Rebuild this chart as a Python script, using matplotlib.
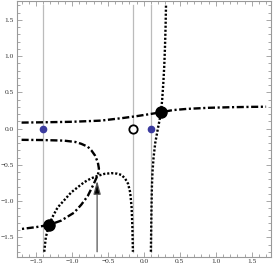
import matplotlib
matplotlib.use("Agg")
import matplotlib.pyplot as plt
import numpy as np

# ---- data ----
# dotted curve, right branch (x, y)
dot_right_x = [0.098, 0.102, 0.106, 0.112, 0.120, 0.135, 0.158, 0.195, 0.215, 0.238, 0.255, 0.270, 0.283, 0.293, 0.302, 0.308]
dot_right_y = [-1.70, -1.40, -1.10, -0.80, -0.60, -0.40, -0.20, 0.00, 0.10, 0.225, 0.40, 0.62, 0.85, 1.10, 1.40, 1.70]
# dotted curve, arch in lower left
dot_arch_x = [-1.385, -1.363, -1.32, -1.26, -1.20, -1.10, -1.01, -0.92, -0.83, -0.74, -0.65, -0.55, -0.45, -0.37, -0.31, -0.26, -0.22, -0.19, -0.17, -0.16, -0.152]
dot_arch_y = [-1.70, -1.50, -1.33, -1.20, -1.09, -0.98, -0.88, -0.81, -0.74, -0.69, -0.655, -0.625, -0.615, -0.622, -0.64, -0.69, -0.76, -0.88, -1.09, -1.35, -1.70]
# dash-dot curve, upper branch
dd_upper_x = [-1.70, -1.40, -1.00, -0.60, -0.30, -0.10, 0.05, 0.238, 0.40, 0.60, 0.90, 1.20, 1.50, 1.70]
dd_upper_y = [0.083, 0.087, 0.094, 0.110, 0.145, 0.172, 0.195, 0.225, 0.255, 0.272, 0.287, 0.295, 0.300, 0.302]
# dash-dot curve, lower "C" branch
dd_lower_x = [-1.70, -1.40, -1.11, -0.95, -0.87, -0.78, -0.73, -0.68, -0.64, -0.625, -0.635, -0.65, -0.70, -0.78, -0.87, -0.97, -1.15, -1.32, -1.50, -1.70]
dd_lower_y = [-0.155, -0.158, -0.166, -0.185, -0.21, -0.25, -0.30, -0.37, -0.465, -0.55, -0.62, -0.66, -0.77, -0.93, -1.05, -1.16, -1.27, -1.33, -1.36, -1.385]
# vertical gray lines
vline_x = [-1.40, -0.152, 0.095]
vline_span = [-1.70, 1.70]
# points
fixed_x = [-1.32, 0.238]
fixed_y = [-1.33, 0.225]
blue_x = [-1.40, 0.095]
blue_y = [0.0, 0.0]
open_x = [-0.152]
open_y = [0.0]
# arrow (start, end)
arrow_x = [-0.65, -0.65]
arrow_y = [-1.70, -0.72]
# ticks
major_ticks = [-1.5, -1.0, -0.5, 0.0, 0.5, 1.0, 1.5]
tick_labels = ["−1.5", "−1.0", "−0.5", "0.0", "0.5", "1.0", "1.5"]
lim = [-1.768, 1.768]

W, H = 274, 268
fig = plt.figure(figsize=(W / 100, H / 100), dpi=100)
ax = fig.add_axes([16.7 / W, (H - 256.7) / H, (271 - 16.7) / W, (256.7 - 0.5) / H])

for xv in vline_x:
    ax.plot([xv, xv], vline_span, color="#bbbbbb", lw=0.9, zorder=1)

ax.annotate("", xy=(arrow_x[1], arrow_y[1]), xytext=(arrow_x[0], arrow_y[0]),
            arrowprops=dict(arrowstyle="-|>,head_length=0.8,head_width=0.22",
                            color="#888888", lw=0.9, shrinkA=0, shrinkB=0,
                            fc="black", ec="#555555"), zorder=2)

dotstyle = dict(color="black", lw=1.7, linestyle=(0, (0.9, 0.8)), zorder=3,
                dash_capstyle="butt")
ax.plot(dot_right_x, dot_right_y, **dotstyle)
ax.plot(dot_arch_x, dot_arch_y, **dotstyle)
ddstyle = dict(color="black", lw=1.7, linestyle=(0, (3.0, 1.1, 0.9, 1.1)), zorder=3,
               dash_capstyle="butt")
ax.plot(dd_upper_x, dd_upper_y, **ddstyle)
ax.plot(dd_lower_x, dd_lower_y, **ddstyle)

ax.plot(fixed_x, fixed_y, "o", color="black", ms=8, zorder=5)
ax.plot(blue_x, blue_y, "o", color="#3b3b9e", ms=4.5, zorder=5)
ax.plot(open_x, open_y, "o", mfc="white", mec="black", mew=1.3, ms=6, zorder=5)

ax.set_xlim(lim)
ax.set_ylim(lim)
ax.set_xticks(major_ticks)
ax.set_yticks(major_ticks)
ax.set_xticklabels(tick_labels, family="Liberation Serif", fontsize=5.3, color="#333333")
ax.set_yticklabels(tick_labels, family="Liberation Serif", fontsize=5.3, color="#333333")
ax.set_xticks(np.arange(-17, 18) / 10, minor=True)
ax.set_yticks(np.arange(-17, 18) / 10, minor=True)
ax.tick_params(which="both", direction="in", top=True, right=True, color="#999999", width=0.6)
ax.tick_params(which="major", length=3.5, pad=2)
ax.tick_params(which="minor", length=2)
for s in ax.spines.values():
    s.set_color("#999999")
    s.set_linewidth(0.8)

fig.savefig("out.png", dpi=100)
